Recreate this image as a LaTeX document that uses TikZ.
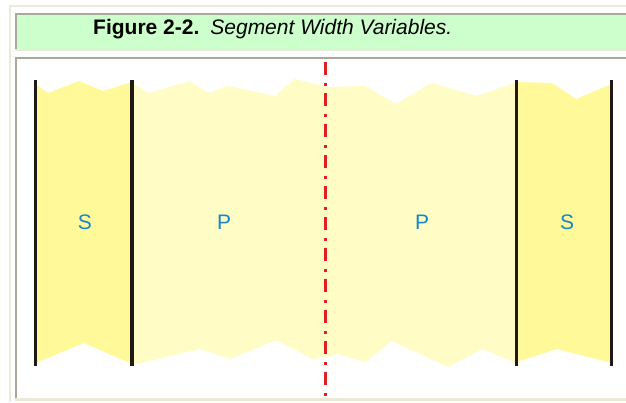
\documentclass[tikz,border=0pt]{standalone}
\usepackage{fontspec}
\setmainfont{Liberation Sans}
\definecolor{beige}{HTML}{ECE9D8}
\definecolor{shadow}{HTML}{ACA899}
\definecolor{titlegreen}{HTML}{CCFFCC}
\definecolor{sfill}{HTML}{FFF99A}
\definecolor{pfill}{HTML}{FFFCC6}
\definecolor{barblack}{HTML}{201A17}
\definecolor{axisred}{HTML}{E02020}
\definecolor{labelblue}{HTML}{1A86C8}
\tikzset{
  bar/.style={draw=barblack, line width=3.5pt},
  seglabel/.style={text=labelblue, font=\fontsize{21}{25}\selectfont, inner sep=0pt},
  axisline/.style={draw=axisred, line width=3pt, dash pattern=on 13pt off 8pt on 3pt off 7pt},
}
\begin{document}
\begin{tikzpicture}[x=1pt,y=-1pt]
\useasboundingbox (0,0) rectangle (626,402);
\fill[white] (0,0) rectangle (626,402);
% outer frame
\fill[beige] (9,5) rectangle (626,7);
\fill[beige] (9,5) rectangle (11,402);
% title box
\fill[titlegreen] (17,15) rectangle (626,49);
\fill[shadow] (15,13) rectangle (626,15);
\fill[shadow] (15,13) rectangle (17,51);
\fill[beige] (15,49) rectangle (626,51);
% content box
\fill[shadow] (15,57) rectangle (626,59);
\fill[shadow] (15,57) rectangle (17,398);
\fill[beige] (15,398) rectangle (626,400.5);
% title text
\node[anchor=base west, inner sep=0pt, font=\fontsize{21}{25}\selectfont] (title) at (93,34)
  {\textbf{Figure 2-2.}\hspace{11pt}\textit{Segment Width Variables.}};
% segments
\fill[sfill] (35.5,84) -- (48,93) -- (79,81) -- (103,91) -- (132,82)
  -- (132,364) -- (84,343) -- (35.5,363) -- cycle;
\fill[pfill] (132,83) -- (149,93) -- (190,81) -- (208,93) -- (228,86) -- (275,96)
  -- (295,79) -- (328,87) -- (365,86) -- (396,104) -- (431,83) -- (477,96) -- (516.5,82)
  -- (516.5,363) -- (482,349) -- (448,367) -- (392,341) -- (365,362) -- (337,354)
  -- (313,359) -- (276,340) -- (230,359) -- (200,349) -- (132,365) -- cycle;
\fill[sfill] (516.5,82) -- (552,83) -- (576,99) -- (611.5,84)
  -- (611.5,363) -- (557,349) -- (516.5,362) -- cycle;
% centre line
\coordinate (axtop) at (325.5,62);
\coordinate (axbot) at (325.5,398);
\draw[axisline] (axtop) -- (axbot);
% bars
\coordinate (b1t) at (35.5,80);  \coordinate (b1b) at (35.5,366);
\coordinate (b2t) at (132,80);   \coordinate (b2b) at (132,366);
\coordinate (b3t) at (516.5,80); \coordinate (b3b) at (516.5,366);
\coordinate (b4t) at (611.5,80); \coordinate (b4b) at (611.5,366);
\draw[bar] (b1t) -- (b1b);
\draw[bar] (b2t) -- (b2b);
\draw[bar] (b3t) -- (b3b);
\draw[bar] (b4t) -- (b4b);
% labels
\node[seglabel] (s1) at (85,222) {S};
\node[seglabel] (p1) at (224,222) {P};
\node[seglabel] (p2) at (422,222) {P};
\node[seglabel] (s2) at (567,222) {S};
\end{tikzpicture}
\end{document}
